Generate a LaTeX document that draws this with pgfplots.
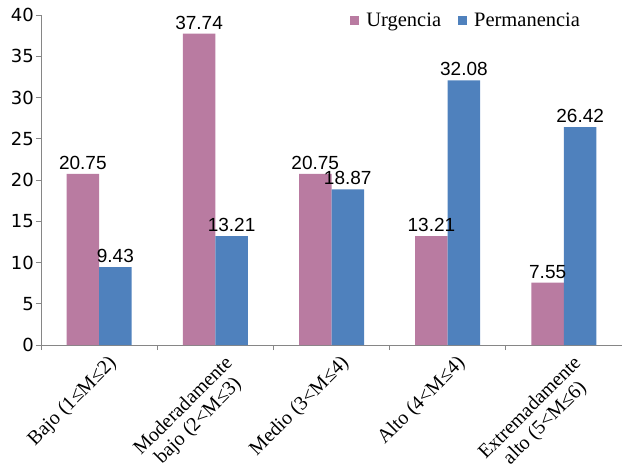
\documentclass[border=0pt]{standalone}
\usepackage{fontspec}
\setmainfont{Liberation Serif}
\newfontfamily\dvs{DejaVu Sans}
\newfontfamily\lss{Liberation Sans}
\usepackage{pgfplots}
\pgfplotsset{compat=1.18}
\definecolor{urg}{HTML}{B97BA1}
\definecolor{perm}{HTML}{4F81BD}
\definecolor{axgray}{HTML}{868686}
\begin{document}
\begin{tikzpicture}
\begin{axis}[name=ax,
 scale only axis, width=581pt, height=330pt,
 ymin=0, ymax=40, ytick={0,5,...,40},
 xmin=-0.5, xmax=4.5, xtick={0,1,2,3,4},
 xticklabels={{Bajo (1≤M≤2)},{Moderadamente\\bajo (2<M≤3)},{Medio (3<M≤4)},{Alto (4<M≤4)},{Extremadamente\\alto (5<M≤6)}},
 minor xtick={-0.5,0.5,1.5,2.5,3.5,4.5},
 axis x line*=bottom, axis y line*=left,
 axis line style={draw=axgray, line width=0.8pt},
 tick style={draw=axgray, line width=0.8pt},
 major x tick style={draw=none},
 tick align=outside, major tick length=5pt, minor tick length=5pt,
 ybar=0pt, bar width=32.5pt,
 /pgf/number format/assume math mode=true,
 yticklabel style={font=\dvs\fontsize{18}{18}\selectfont, inner sep=2pt},
 xticklabel style={font=\fontsize{20}{21}\selectfont, align=center, inner sep=0pt, xshift=8pt, yshift=-4pt, rotate=45, anchor=north east},
 nodes near coords={\pgfmathprintnumber[fixed, fixed zerofill, precision=2]{\pgfplotspointmeta}},
 every node near coord/.append style={font=\lss\fontsize{19}{19}\selectfont, inner sep=1pt, yshift=3pt, text=black},
 legend style={at={(0.527,0.982)}, anchor=west, draw=none, fill=none, font=\fontsize{20.5}{20.5}\selectfont,
   /tikz/every odd column/.append style={column sep=5pt},
   /tikz/every even column/.append style={column sep=15pt}},
 legend columns=2, legend cell align=left,
]
\addplot[fill=urg, draw=none, legend image code/.code={\fill[urg] (0pt,-4.5pt) rectangle (9pt,4.5pt);}] coordinates {(0,20.75) (1,37.74) (2,20.75) (3,13.21) (4,7.55)};
\addplot[fill=perm, draw=none, legend image code/.code={\fill[perm] (0pt,-4.5pt) rectangle (9pt,4.5pt);}] coordinates {(0,9.43) (1,13.21) (2,18.87) (3,32.08) (4,26.42)};
\legend{Urgencia, Permanencia}
\end{axis}
\pgfresetboundingbox
\path ([shift={(-41pt,-119pt)}]ax.south west) rectangle ([shift={(0pt,15pt)}]ax.north east);
\end{tikzpicture}
\end{document}
